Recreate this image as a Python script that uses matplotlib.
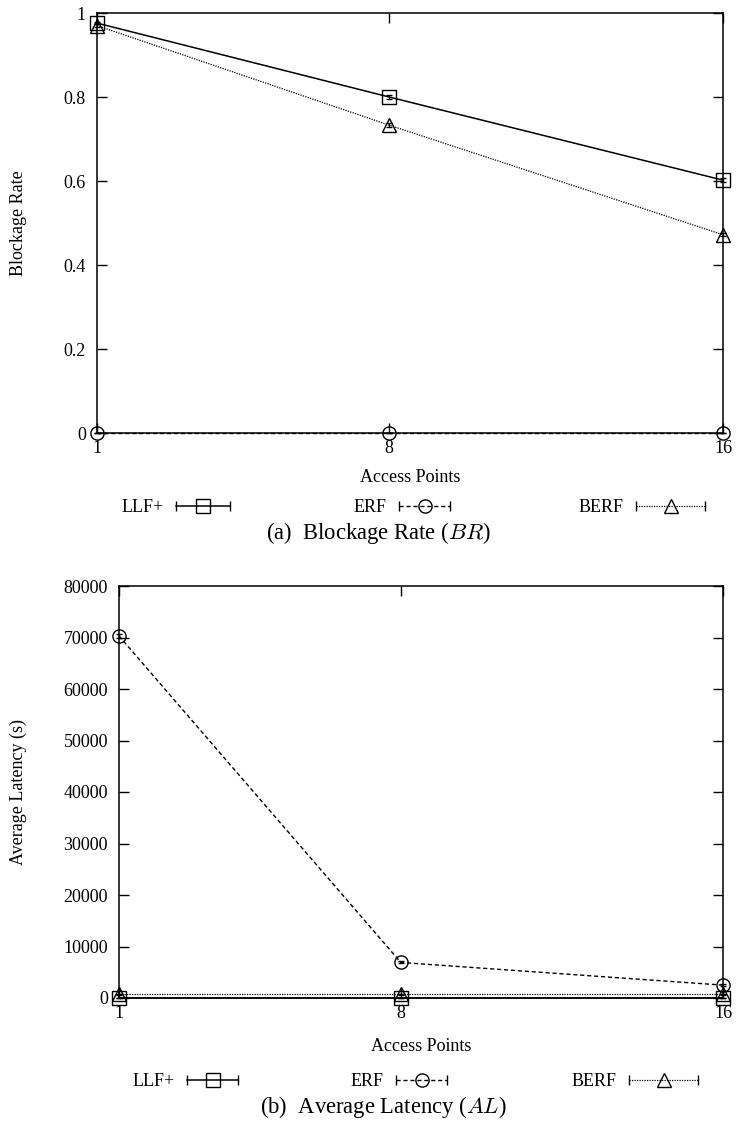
import matplotlib
matplotlib.use("Agg")
import matplotlib.pyplot as plt
from matplotlib.lines import Line2D
from matplotlib.legend_handler import HandlerLine2D, HandlerTuple
import numpy as np

plt.rcParams['font.family'] = ['Liberation Serif', 'DejaVu Serif']
plt.rcParams['mathtext.fontset'] = 'cm'

# access point counts
access_points = [1, 8, 16]

# blockage rate
br_llf = [0.976, 0.800, 0.602]
br_erf = [0.0, 0.0, 0.0]
br_berf = [0.970, 0.733, 0.472]
br_llf_err = [0.003, 0.004, 0.004]
br_erf_err = [0.0, 0.0, 0.0]
br_berf_err = [0.003, 0.004, 0.004]

# average latency (s)
al_llf = [0, 0, 0]
al_erf = [70300, 6900, 2500]
al_berf = [700, 700, 700]
al_llf_err = [40, 40, 40]
al_erf_err = [300, 200, 150]
al_berf_err = [40, 40, 40]

names = ["LLF+", "ERF", "BERF"]
markers = ['s', 'o', '^']
styles = ['-', (0, (3, 2)), (0, (1, 1))]
widths = [1.1, 1.0, 0.9]

W, H = 737, 1122
fig = plt.figure(figsize=(W / 100, H / 100), dpi=100)


def px_axes(left, top, right, bottom):
    return fig.add_axes([left / W, 1 - bottom / H, (right - left) / W, (bottom - top) / H])


ax1 = px_axes(97, 13, 723, 433)
ax2 = px_axes(119, 586, 723, 998)


def draw(ax, ys, errs):
    for name, mk, ls, lw, y, e in zip(names, markers, styles, widths, ys, errs):
        h = ax.errorbar(access_points, y, yerr=e, marker=mk, linestyle=ls,
                        color='black', linewidth=lw, markersize=9.5,
                        markerfacecolor='none', markeredgewidth=1.0,
                        ecolor='black', elinewidth=0.9, capsize=2,
                        clip_on=False, label=name)
        for art in h.lines[1] + h.lines[2]:
            art.set_clip_on(False)
    ax.set_xlim(1, 16)
    ax.set_xticks(access_points)
    ax.tick_params(axis='both', direction='in', length=7, width=1, top=True,
                   right=True, labelsize=13)
    ax.tick_params(axis='x', pad=5)
    ax.tick_params(axis='y', pad=8)
    for s in ax.spines.values():
        s.set_linewidth(1.1)
    ax.set_xlabel("Access Points", fontsize=13)


def legend_row(ypix, right_edges, lengths):
    # gnuplot-style key: text, then a line with end caps and the marker on top
    for name, mk, ls, lw, xr, hl in zip(names, markers, styles, widths,
                                        right_edges, lengths):
        caps = Line2D([], [], color='black', linestyle=ls, linewidth=lw,
                      marker='|', markersize=7, markeredgewidth=1.0)
        mark = Line2D([], [], color='black', linestyle='none', marker=mk,
                      markersize=9.5, markerfacecolor='none',
                      markeredgewidth=1.0)
        fig.legend([(caps, mark)], [name], loc='center right',
                   bbox_to_anchor=(xr / W, 1 - ypix / H), frameon=False,
                   markerfirst=False, handlelength=hl, handletextpad=0.7,
                   borderpad=0, borderaxespad=0, fontsize=13,
                   handler_map={caps: HandlerLine2D(numpoints=2, marker_pad=0),
                                mark: HandlerLine2D(numpoints=1),
                                tuple: HandlerTuple(ndivide=1, pad=0)})


draw(ax1, [br_llf, br_erf, br_berf], [br_llf_err, br_erf_err, br_berf_err])
ax1.set_ylim(0, 1)
ax1.set_yticks([0, 0.2, 0.4, 0.6, 0.8, 1])
ax1.set_yticklabels(["0", "0.2", "0.4", "0.6", "0.8", "1"])
ax1.set_ylabel("Blockage Rate", fontsize=13)
ax1.yaxis.set_label_coords((27 - 97) / 626, 0.5)
ax1.xaxis.set_label_coords(0.5, -36 / 420)

draw(ax2, [al_llf, al_erf, al_berf], [al_llf_err, al_erf_err, al_berf_err])
ax2.set_ylim(0, 80000)
ax2.set_yticks(np.arange(0, 80001, 10000))
ax2.set_ylabel("Average Latency (s)", fontsize=13)
ax2.yaxis.set_label_coords((27 - 119) / 604, 0.5)
ax2.xaxis.set_label_coords(0.5, -40 / 412)

legend_row(508, [230, 450, 705], [3.0, 2.8, 3.8])
legend_row(1082, [238, 447, 698], [2.8, 2.8, 3.8])

fig.text(378 / W, 1 - 533 / H, r"(a)  Blockage Rate ($BR$)", ha='center',
         va='center', fontsize=16.3)
fig.text(383 / W, 1 - 1107 / H, r"(b)  Average Latency ($AL$)", ha='center',
         va='center', fontsize=16.3)

fig.savefig("out.png", dpi=100)
